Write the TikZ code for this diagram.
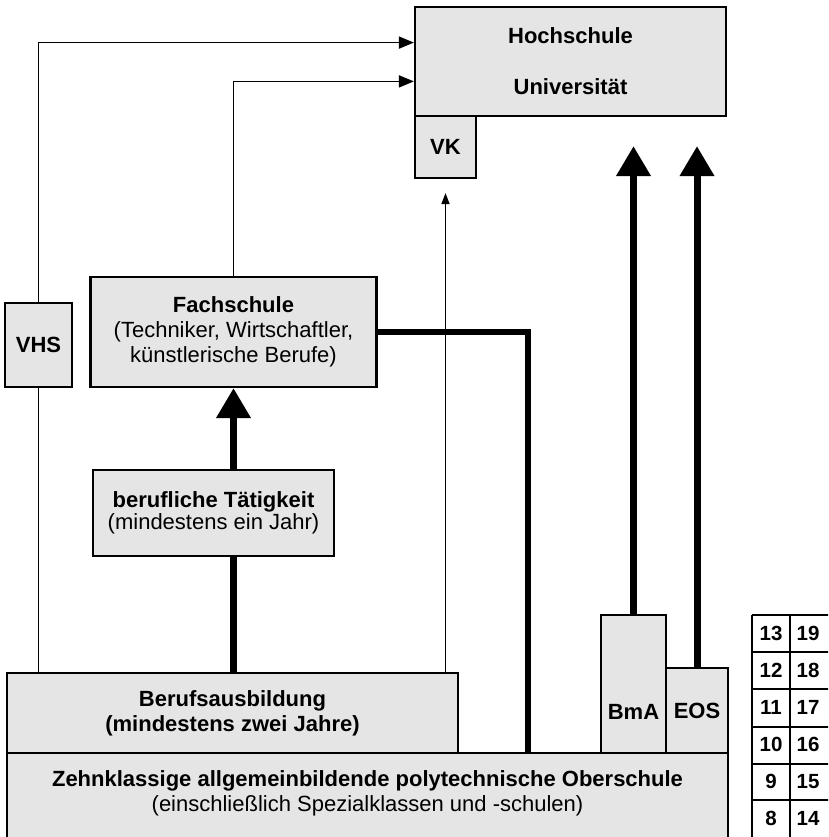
\documentclass[tikz,border=0pt]{standalone}
\usepackage{fontspec}
\setmainfont{Liberation Sans}
\usetikzlibrary{arrows.meta,calc,backgrounds}
\begin{document}
\begin{tikzpicture}[x=1pt,y=-1pt,
  box/.style={draw, line width=2.2pt, fill=black!10, inner sep=0pt, align=center, font=\fontsize{22}{25}\selectfont},
  txt/.style={inner sep=0pt, align=center, font=\fontsize{22}{25}\selectfont},
  conn/.style={line width=1.6pt},
  thinarrow/.style={conn, -{Triangle[length=15pt,width=12pt]}},
  fat/.style={line width=7pt},
  fatarrow/.style={fat, -{Triangle[length=30pt,width=33pt]}},
  tabline/.style={line width=2.4pt},
  num/.style={inner sep=0pt, font=\fontsize{20.5}{24}\selectfont\bfseries}
]
\clip (0,0) rectangle (828,837);

% boxes
\node[box, minimum width=311pt, minimum height=109pt] (hoch) at (570.5,61.5) {\textbf{Hochschule}\\[26pt]\textbf{Universität}};
\node[box, minimum width=61pt, minimum height=62pt] (vk) at (445.5,147) {\textbf{VK}};
\node[box, minimum width=67pt, minimum height=84pt] (vhs) at (38.5,345) {\textbf{VHS}};
\node[box, minimum width=286pt, minimum height=110pt] (fach) at (233.5,332) {\textbf{Fachschule}\\(Techniker, Wirtschaftler,\\künstlerische Berufe)};
\node[box, minimum width=241pt, minimum height=86pt, font=\fontsize{22}{22}\selectfont] (beruf) at (213.5,513) {\textbf{berufliche Tätigkeit}\\(mindestens ein Jahr)};
\node[box, minimum width=721pt, minimum height=107pt] (zehn) at (367.5,806.5) {};
\node[txt] (zehntxt) at (367.5,793.5) {\textbf{Zehnklassige allgemeinbildende polytechnische Oberschule}\\(einschließlich Spezialklassen und -schulen)};
\node[box, minimum width=451pt, minimum height=80pt] (bau) at (232.5,713) {\textbf{Berufsausbildung}\\\textbf{(mindestens zwei Jahre)}};
\node[box, minimum width=65pt, minimum height=138pt] (bma) at (633.5,684) {};
\node[txt] (bmatxt) at (633.5,712) {\textbf{BmA}};
\node[box, minimum width=62pt, minimum height=85pt] (eos) at (697,710.5) {\textbf{EOS}};

\coordinate (hA) at ($(hoch.north west)!0.33!(hoch.south west)$);
\coordinate (hB) at ($(hoch.north west)!0.679!(hoch.south west)$);
\coordinate (zJ) at (528,753);

\begin{scope}[on background layer]
\fill[white] (0,0) rectangle (828,837);
\draw[conn] (vhs.south) -- (vhs.south |- bau.north);
\draw[thinarrow] (vhs.north) |- (hA);
\draw[thinarrow] (fach.north) |- (hB);
\draw[conn, -{Triangle[length=11pt,width=8pt]}, shorten >=14pt] (vk.south |- bau.north) -- (vk.south);
\draw[fat] (bau.north -| fach.south) -- (beruf.south -| fach.south);
\draw[fatarrow] (beruf.north -| fach.south) -- (fach.south);
\draw[fat, line width=6pt] (fach.east) -| (zJ);
\draw[fatarrow, shorten >=29pt] (bma.north) -- (bma.north |- hoch.south);
\draw[fatarrow, shorten >=29pt] (eos.north) -- (eos.north |- hoch.south);
\end{scope}

% age / grade table
\draw[tabline] (752,615) -- (752,845);
\draw[tabline] (790,615) -- (790,845);
\foreach \yy in {615,652,689,727,764,800} \draw[tabline] (752,\yy) -- (830,\yy);
\foreach \l/\r [count=\i] in {13/19,12/18,11/17,10/16,9/15,8/14} {
  \node[num] (L\i) at (771,596.5+37*\i) {\l};
  \node[num] (R\i) at (808,596.5+37*\i) {\r};
}
\end{tikzpicture}
\end{document}
